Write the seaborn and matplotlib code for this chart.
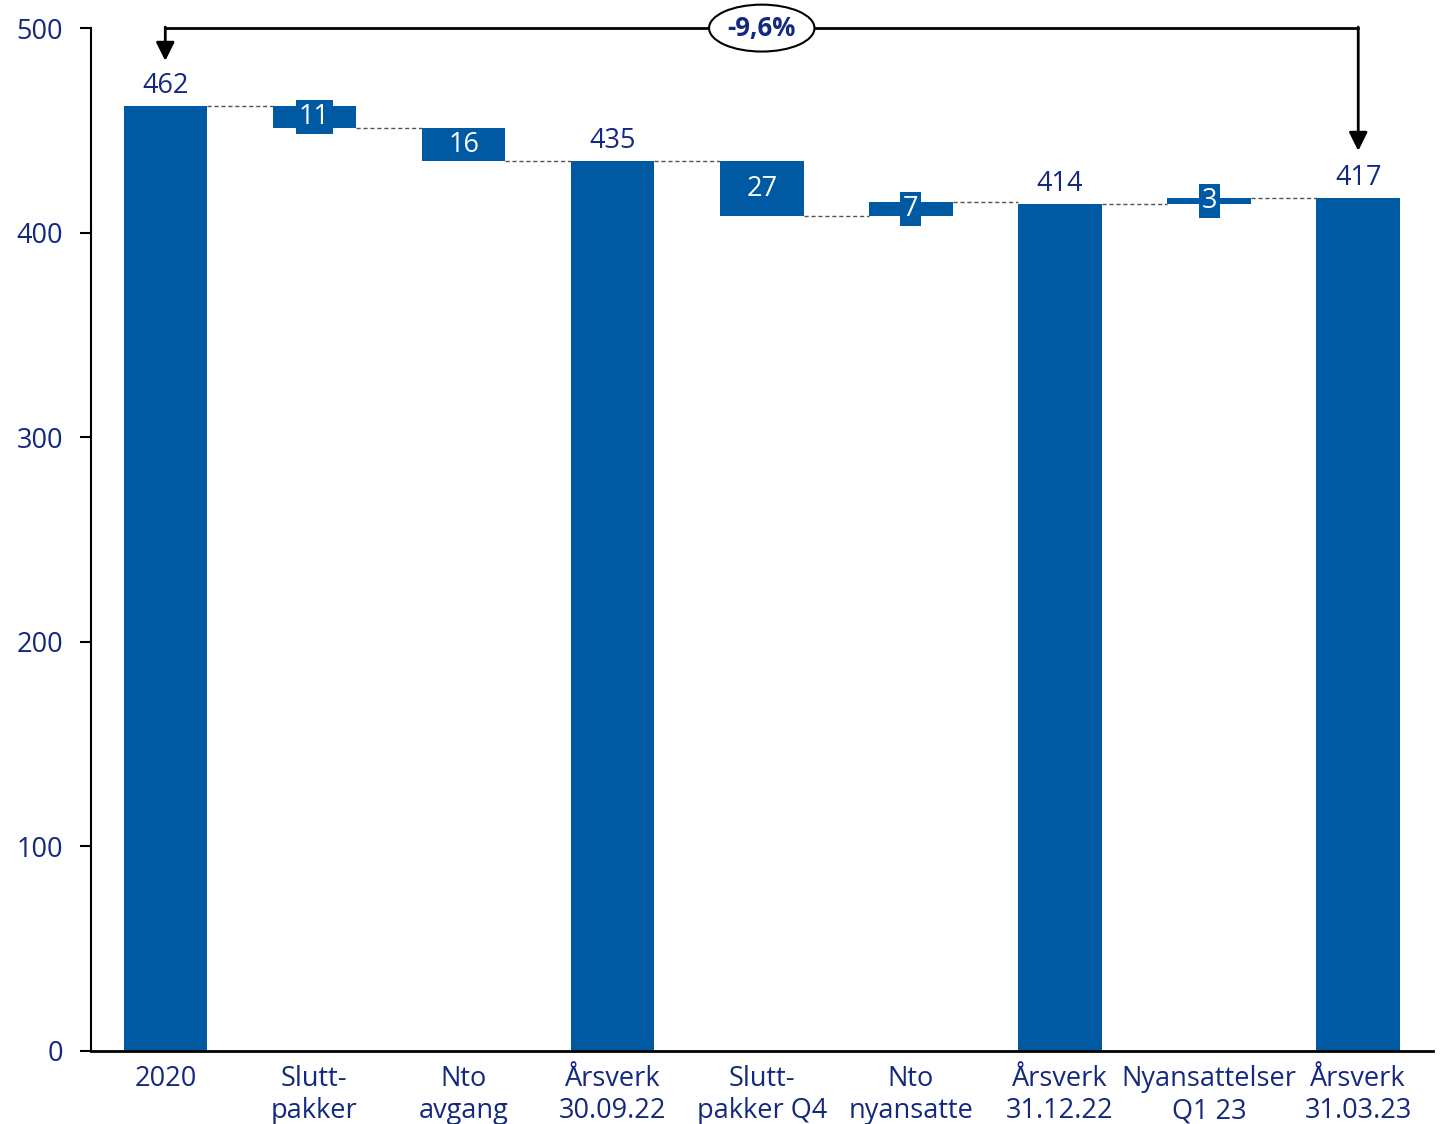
import pandas as pd
import matplotlib
matplotlib.use("Agg")
import matplotlib.pyplot as plt
import seaborn as sns

# Chart data
categories = ["2020", "Slutt-\npakker", "Nto\navgang", "Årsverk\n30.09.22",
              "Slutt-\npakker Q4", "Nto\nnyansatte", "Årsverk\n31.12.22",
              "Nyansattelser\nQ1 23", "Årsverk\n31.03.23"]
values = [462, -11, -16, 435, -27, 7, 414, 3, 417]
is_total = [True, False, False, True, False, False, True, False, True]
change_label = "-9,6%"
y_ticks = [0, 100, 200, 300, 400, 500]

BLUE = "#005AA3"
NAVY = "#14287F"
FS = 19.5

# running levels for the waterfall
tops, bottoms, ends = [], [], []
level = 0
for v, tot in zip(values, is_total):
    if tot:
        start, level = 0, v
    else:
        start, level = level, level + v
    bottoms.append(min(start, level))
    tops.append(max(start, level))
    ends.append(level)

df = pd.DataFrame({"category": categories, "top": tops, "bottom": bottoms})

sns.set_theme(style="white")
plt.rcParams["font.family"] = ["Open Sans", "DejaVu Sans"]

fig = plt.figure(figsize=(14.4, 11.24), dpi=100)
ax = fig.add_axes([0.063, 0.065, 0.932, 0.910])

bw = 0.56
sns.barplot(data=df, x="category", y="top", color=BLUE, saturation=1,
            width=bw, linewidth=0, ax=ax, zorder=2)
sns.barplot(data=df, x="category", y="bottom", color="white", saturation=1,
            width=bw, linewidth=0, ax=ax, zorder=2)

# dashed connectors
for i in range(len(categories) - 1):
    ax.plot([i + bw / 2, i + 1 - bw / 2], [ends[i], ends[i]], ls=(0, (3, 2)),
            color="#555555", lw=1, zorder=3)

# value labels
for i, (v, tot) in enumerate(zip(values, is_total)):
    if tot:
        ax.text(i, tops[i] + 3, str(v), ha="center", va="bottom",
                color=NAVY, fontsize=FS)
    else:
        ax.text(i, (tops[i] + bottoms[i]) / 2, str(abs(v)), ha="center",
                va="center", color="white", fontsize=FS, zorder=4,
                bbox=dict(boxstyle="square,pad=0.1", fc=BLUE, ec="none"))

# bracket with arrows
ax.plot([0, len(categories) - 1], [500, 500], color="black", lw=2,
        clip_on=False, zorder=5)
ax.annotate("", xy=(0, 484), xytext=(0, 500.5),
            arrowprops=dict(arrowstyle="-|>", color="black", lw=2,
                            mutation_scale=28, shrinkA=0, shrinkB=0),
            annotation_clip=False)
ax.annotate("", xy=(len(categories) - 1, 440), xytext=(len(categories) - 1, 500.5),
            arrowprops=dict(arrowstyle="-|>", color="black", lw=2,
                            mutation_scale=28, shrinkA=0, shrinkB=0),
            annotation_clip=False)
ax.text(4, 500, change_label, ha="center", va="center", color=NAVY,
        fontsize=18.5, fontweight="bold", zorder=6,
        bbox=dict(boxstyle="ellipse,pad=0.12", fc="white", ec="black", lw=1.5))

ax.set_xlim(-0.5, len(categories) - 0.5)
ax.set_ylim(0, 500)
ax.set_yticks(y_ticks)
ax.set_xlabel("")
ax.set_ylabel("")
ax.tick_params(axis="y", length=8, width=1.5, color="black", labelsize=FS,
               labelcolor=NAVY, left=True, pad=12)
ax.tick_params(axis="x", length=0, labelsize=FS, labelcolor=NAVY, pad=10)
for lbl in ax.get_xticklabels():
    lbl.set_linespacing(1.2)

for s in ["top", "right"]:
    ax.spines[s].set_visible(False)
ax.spines["left"].set_color("black")
ax.spines["left"].set_linewidth(1.5)
ax.spines["bottom"].set_color("black")
ax.spines["bottom"].set_linewidth(2)
ax.grid(False)

fig.savefig("out.png", dpi=100)
